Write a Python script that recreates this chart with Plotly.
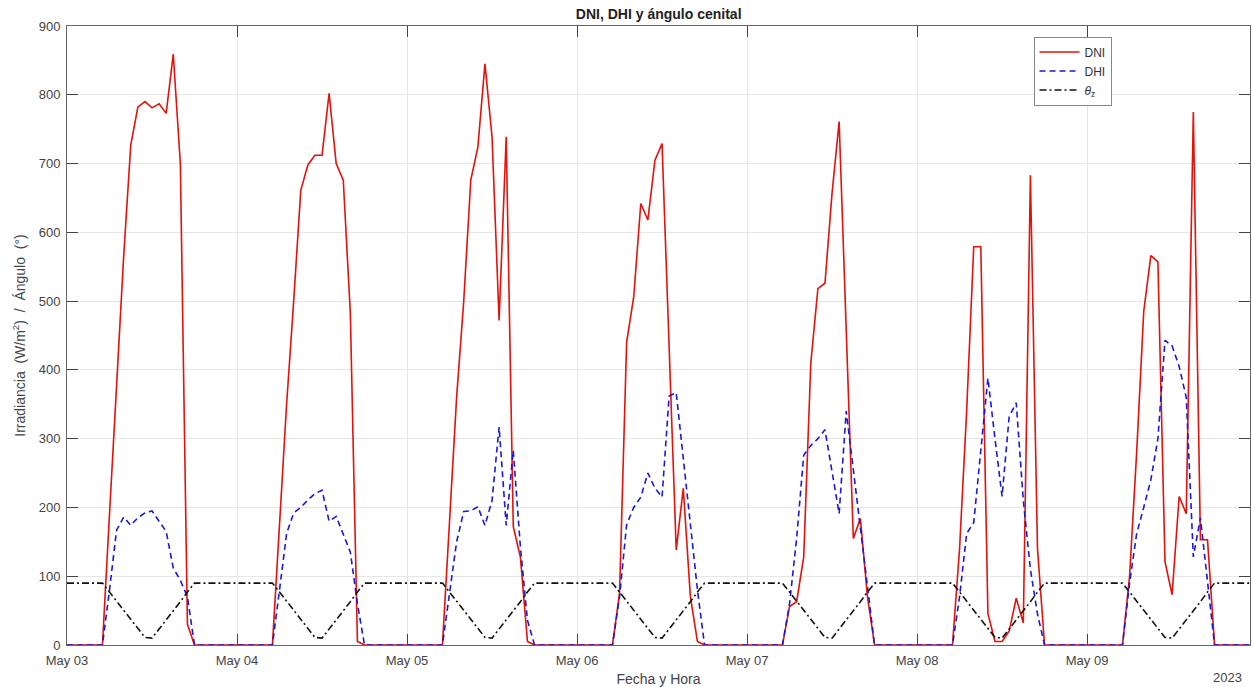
import pandas as pd
import plotly.graph_objects as go

# Hourly data, May 03 00:00 -> May 09 23:00 (2023)
hours = pd.date_range("2023-05-03 00:00", "2023-05-09 23:00", freq="h")

dni_may03 = [0,0,0,0,0,0,190,375,565,727,782,790,781,787,773,859,700,30,0,0,0,0,0,0]
dni_may04 = [0,0,0,0,0,0,175,350,500,661,698,712,712,802,700,676,482,5,0,0,0,0,0,0]
dni_may05 = [0,0,0,0,0,0,180,360,499,676,724,845,739,472,739,172,128,5,0,0,0,0,0,0]
dni_may06 = [0,0,0,0,0,0,75,440,506,642,618,705,729,430,138,228,70,5,0,0,0,0,0,0]
dni_may07 = [0,0,0,0,0,0,56,63,128,410,518,526,657,761,458,155,184,70,0,0,0,0,0,0]
dni_may08 = [0,0,0,0,0,0,140,340,579,579,46,5,5,20,68,32,683,140,0,0,0,0,0,0]
dni_may09 = [0,0,0,0,0,0,100,280,485,566,557,121,73,216,191,775,153,153,0,0,0,0,0,0]

dhi_may03 = [0,0,0,0,0,0,80,167,186,174,185,192,195,180,165,112,94,70,0,0,0,0,0,0]
dhi_may04 = [0,0,0,0,0,0,80,162,192,200,211,220,225,180,187,160,135,60,0,0,0,0,0,0]
dhi_may05 = [0,0,0,0,0,0,75,150,194,195,201,174,210,317,174,283,143,36,0,0,0,0,0,0]
dhi_may06 = [0,0,0,0,0,0,70,175,200,215,250,228,215,362,367,270,175,80,0,0,0,0,0,0]
dhi_may07 = [0,0,0,0,0,0,60,155,276,290,300,313,252,191,340,253,170,85,0,0,0,0,0,0]
dhi_may08 = [0,0,0,0,0,0,70,162,178,280,388,300,216,332,352,210,110,45,0,0,0,0,0,0]
dhi_may09 = [0,0,0,0,0,0,90,162,200,240,300,443,435,405,360,128,185,95,0,0,0,0,0,0]

zen_may03 = [90,90,90,90,90,90,77,64,51,37,24,11,10,23,37,50,63,77,90,90,90,90,90,90]
zen_may04 = [90,90,90,90,90,90,77,64,51,37,24,11,10,23,37,50,63,77,90,90,90,90,90,90]
zen_may05 = [90,90,90,90,90,90,77,64,51,37,24,11,10,23,37,50,63,77,90,90,90,90,90,90]
zen_may06 = [90,90,90,90,90,90,77,64,51,37,24,11,10,23,37,50,63,77,90,90,90,90,90,90]
zen_may07 = [90,90,90,90,90,90,77,64,51,37,24,11,10,23,37,50,63,77,90,90,90,90,90,90]
zen_may08 = [90,90,90,90,90,90,77,64,51,37,24,11,10,23,37,50,63,77,90,90,90,90,90,90]
zen_may09 = [90,90,90,90,90,90,77,64,51,37,24,11,10,23,37,50,63,77,90,90,90,90,90,90]

tick_days = ["2023-05-03", "2023-05-04", "2023-05-05", "2023-05-06",
             "2023-05-07", "2023-05-08", "2023-05-09"]
tick_labels = ["May 03", "May 04", "May 05", "May 06", "May 07", "May 08", "May 09"]
y_ticks = [0, 100, 200, 300, 400, 500, 600, 700, 800, 900]

dni = dni_may03 + dni_may04 + dni_may05 + dni_may06 + dni_may07 + dni_may08 + dni_may09
dhi = dhi_may03 + dhi_may04 + dhi_may05 + dhi_may06 + dhi_may07 + dhi_may08 + dhi_may09
zen = zen_may03 + zen_may04 + zen_may05 + zen_may06 + zen_may07 + zen_may08 + zen_may09

FONT = "Liberation Sans, Arial, Helvetica, sans-serif"

fig = go.Figure()
fig.add_trace(go.Scatter(x=hours, y=dni, mode="lines", name="DNI",
                         line=dict(color="#e3120b", width=1.6)))
fig.add_trace(go.Scatter(x=hours, y=dhi, mode="lines", name="DHI",
                         line=dict(color="#1a1ad6", width=1.6, dash="6px,4px")))
fig.add_trace(go.Scatter(x=hours, y=zen, mode="lines", name="<i>θ</i><sub>z</sub>",
                         line=dict(color="#111111", width=1.6, dash="7px,3px,2px,3px")))

fig.update_layout(
    width=1253, height=687,
    margin=dict(l=67, r=3, t=26, b=42),
    paper_bgcolor="white", plot_bgcolor="white",
    font=dict(family=FONT, size=13, color="#333333"),
    title=dict(text="<b>DNI, DHI y ángulo cenital</b>", x=0.5257, xanchor="center",
               y=0.979, yanchor="middle", font=dict(size=14, color="#222222")),
    showlegend=True,
    legend=dict(x=0.817, y=0.983, xanchor="left", yanchor="top",
                bgcolor="white", bordercolor="#888888", borderwidth=1,
                font=dict(size=12, color="#333333"), tracegroupgap=0,
                itemwidth=40),
)

fig.update_xaxes(
    range=[hours[0], hours[-1]],
    tickvals=tick_days, ticktext=tick_labels,
    showgrid=True, gridcolor="#e6e6e6", gridwidth=1,
    showline=True, linecolor="#666666", linewidth=1, mirror="ticks",
    ticks="inside", ticklen=11, tickcolor="#444444",
    tickfont=dict(size=13, color="#444444"), ticklabelstandoff=3,
    title=dict(text="Fecha y Hora", font=dict(size=14, color="#444444"), standoff=8),
    zeroline=False,
)
fig.update_yaxes(
    range=[0, 900], tickvals=y_ticks,
    showgrid=True, gridcolor="#e6e6e6", gridwidth=1,
    showline=True, linecolor="#666666", linewidth=1, mirror="ticks",
    ticks="inside", ticklen=11, tickcolor="#444444",
    tickfont=dict(size=13, color="#444444"), ticklabelstandoff=3,
    title=dict(text="Irradiancia  (W/m<sup>2</sup>)  /  Ángulo  (°)",
               font=dict(size=14, color="#444444"), standoff=9),
    zeroline=False,
)

fig.add_annotation(text="2023", xref="paper", yref="paper", x=0.981, y=-0.052,
                   xanchor="center", yanchor="middle", showarrow=False,
                   font=dict(size=13, color="#444444"))

fig.write_html("out.html")
